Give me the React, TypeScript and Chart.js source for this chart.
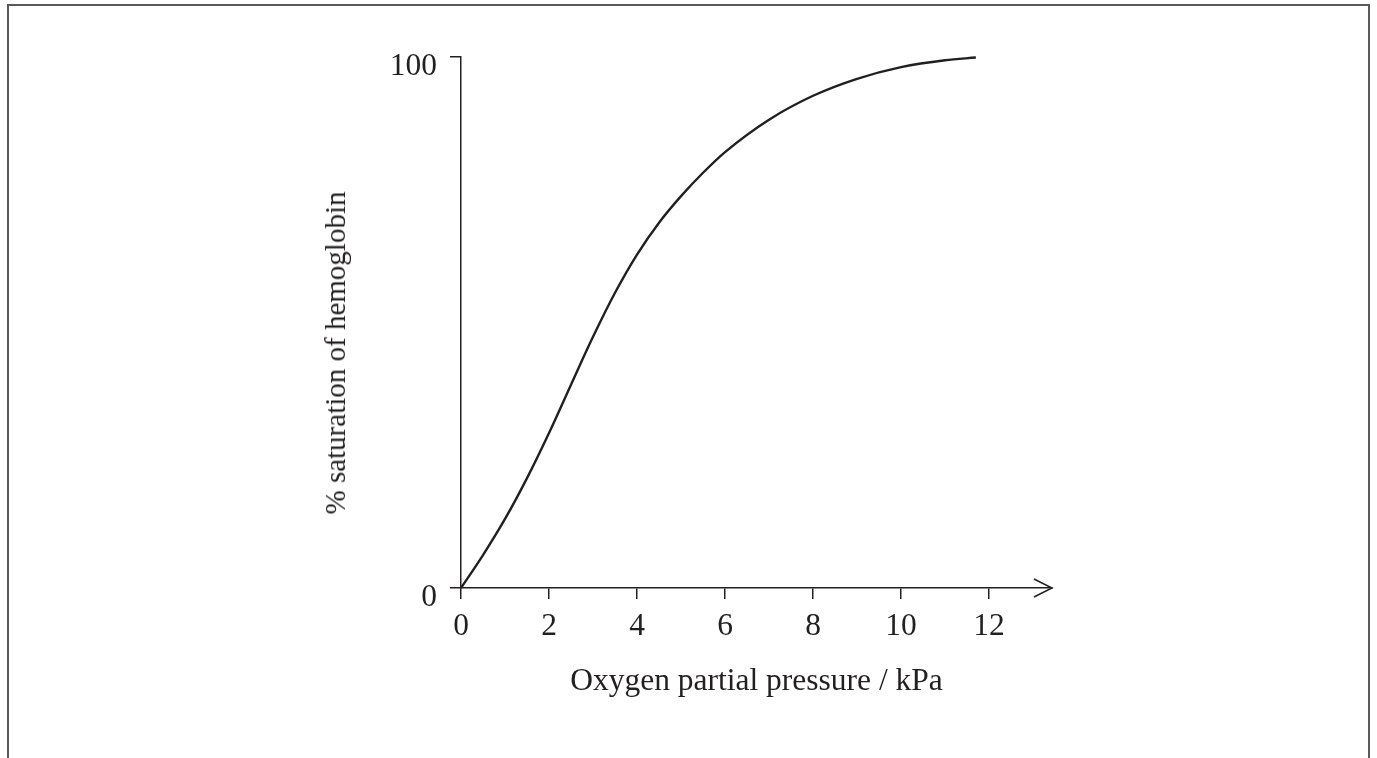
import React, { useEffect, useRef } from "react";
import { Chart, registerables } from "chart.js";

Chart.register(...registerables);

// ---- data ----
const pressureKPa = [0, 0.5, 1, 1.5, 2, 2.5, 3, 3.5, 4, 4.5, 5, 5.5, 6, 7, 8, 9, 10, 11, 11.7];
const saturationPct = [0, 6.2, 13.0, 20.7, 29.2, 38.3, 47.3, 55.6, 62.8, 68.8, 73.8, 78.2, 82.1, 88.2, 92.7, 95.9, 98.1, 99.4, 99.9];
const xTickValues = [0, 2, 4, 6, 8, 10, 12];
const yTickValues = [0, 100];
const xTitle = "Oxygen partial pressure / kPa";
const yTitle = "% saturation of hemoglobin";

const INK = "#231f20";
const FONT = "'Liberation Serif', 'Times New Roman', serif";

const arrowPlugin = {
  id: "axisArrow",
  afterDraw(chart: any) {
    const { ctx, chartArea } = chart;
    const x = chartArea.right;
    const y = chartArea.bottom;
    ctx.save();
    ctx.strokeStyle = INK;
    ctx.lineWidth = 1.5;
    ctx.beginPath();
    ctx.moveTo(x - 18, y - 9);
    ctx.lineTo(x, y);
    ctx.lineTo(x - 18, y + 9);
    ctx.stroke();
    ctx.restore();
  },
};

export default function App() {
  const canvasRef = useRef<HTMLCanvasElement | null>(null);

  useEffect(() => {
    if (!canvasRef.current) return;
    const chart = new Chart(canvasRef.current, {
      type: "line",
      data: {
        datasets: [
          {
            data: pressureKPa.map((p, i) => ({ x: p, y: saturationPct[i] })),
            borderColor: INK,
            borderWidth: 2.4,
            pointRadius: 0,
            cubicInterpolationMode: "monotone",
            fill: false,
            clip: 10,
          } as any,
        ],
      },
      options: {
        responsive: false,
        animation: false,
        events: [],
        layout: { padding: { left: 0, top: 57, right: 325, bottom: 0 } },
        plugins: { legend: { display: false }, tooltip: { enabled: false } },
        scales: {
          x: {
            type: "linear",
            min: 0,
            max: 13.43,
            afterBuildTicks: (scale: any) => {
              scale.ticks = xTickValues.map((v) => ({ value: v }));
            },
            afterFit: (scale: any) => {
              scale.height = 170;
            },
            grid: {
              drawOnChartArea: false,
              drawTicks: true,
              tickLength: 11,
              color: INK,
              lineWidth: 1.5,
            },
            border: { display: true, color: INK, width: 1.5 },
            ticks: {
              color: INK,
              font: { family: FONT, size: 31.5 },
              padding: 9,
              maxRotation: 0,
              autoSkip: false,
            },
            title: {
              display: true,
              text: xTitle,
              color: INK,
              font: { family: FONT, size: 31.5 },
              padding: { top: 0, bottom: 57 },
            },
          },
          y: {
            type: "linear",
            min: 0,
            max: 100,
            afterBuildTicks: (scale: any) => {
              scale.ticks = yTickValues.map((v) => ({ value: v }));
            },
            afterFit: (scale: any) => {
              scale.width = 461;
            },
            grid: {
              drawOnChartArea: false,
              drawTicks: true,
              tickLength: 11,
              color: INK,
              lineWidth: 1.5,
            },
            border: { display: true, color: INK, width: 1.5 },
            ticks: {
              color: INK,
              font: { family: FONT, size: 31.5 },
              padding: 13,
              labelOffset: 10,
              autoSkip: false,
            },
          },
        },
      },
      plugins: [arrowPlugin],
    } as any);
    return () => chart.destroy();
  }, []);

  return (
    <div
      style={{
        position: "fixed",
        left: 0,
        top: 0,
        width: 1377,
        height: 758,
        background: "#ffffff",
        overflow: "hidden",
      }}
    >
      <div
        style={{
          position: "absolute",
          left: 7,
          top: 4,
          width: 1363,
          height: 820,
          boxSizing: "border-box",
          border: "2px solid #5a5a5a",
        }}
      />
      <canvas
        ref={canvasRef}
        width={1377}
        height={758}
        style={{ position: "absolute", left: 0, top: 0, width: 1377, height: 758 }}
      />
      <div
        style={{
          position: "absolute",
          left: 335,
          top: 353,
          transform: "translate(-50%, -50%) rotate(-90deg)",
          whiteSpace: "nowrap",
          fontFamily: FONT,
          fontSize: 29,
          lineHeight: "36px",
          color: INK,
        }}
      >
        {yTitle}
      </div>
    </div>
  );
}
